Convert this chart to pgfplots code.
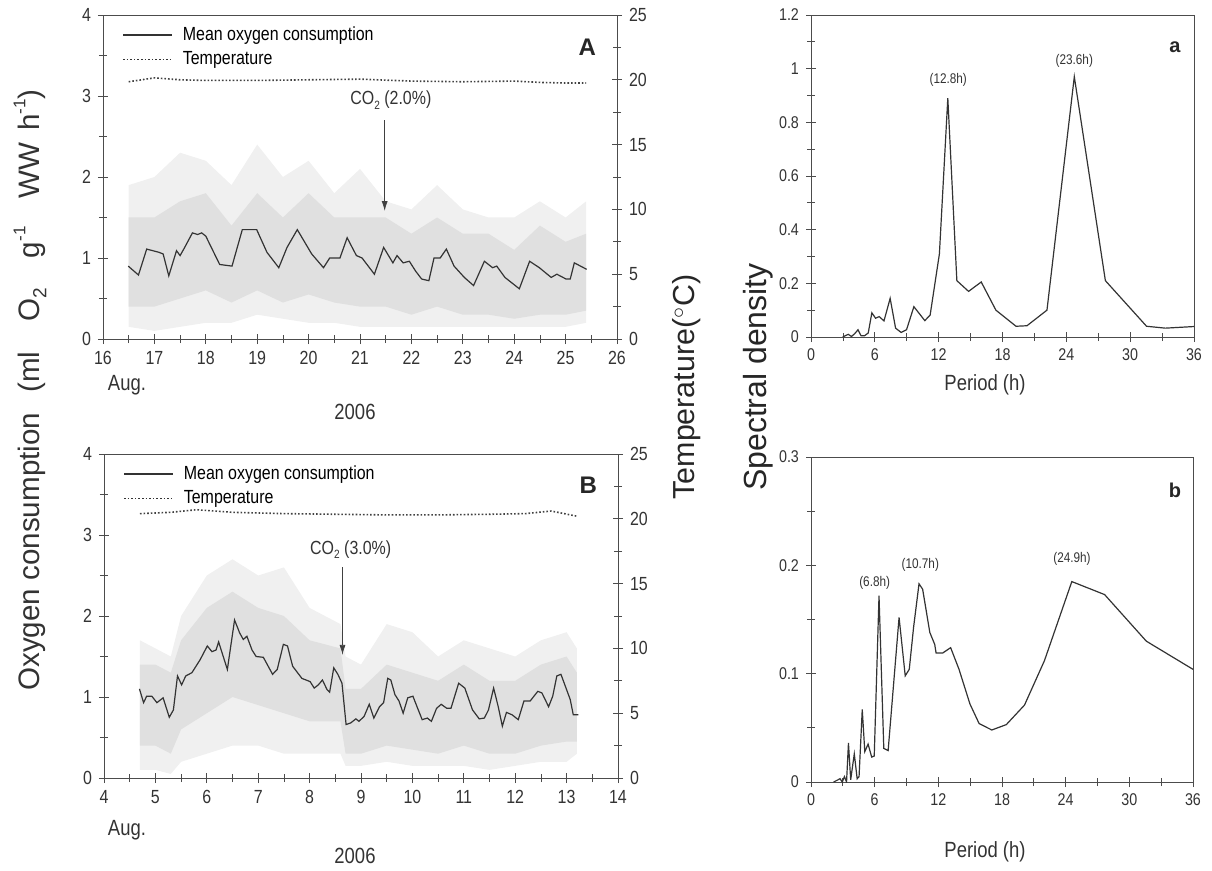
\documentclass[border=0pt]{standalone}
\usepackage{fontspec}
\setmainfont{Liberation Sans}
\newfontfamily\nf{Liberation Sans}[FakeStretch=0.84]
\usepackage{pgfplots}
\usepackage{pgfplotstable}
\pgfplotsset{compat=1.18}
\usetikzlibrary{arrows.meta}
\newcommand\sub[2][6]{\raisebox{-0.45ex}{\fontsize{#1}{#1}\selectfont #2}}
\newcommand\sups[2][8]{\raisebox{0.9ex}{\fontsize{#1}{#1}\selectfont #2}}

% scatter clouds: outline of sparse (outer) and dense (inner) regions
\pgfplotstableread{
x y
16.5 1.9
17.0 2.0
17.5 2.3
18.0 2.2
18.5 1.9
19.0 2.4
19.5 2.0
20.0 2.2
20.5 1.8
21.0 2.1
21.5 1.7
22.0 1.6
22.5 1.9
23.0 1.6
23.5 1.5
24.0 1.5
24.5 1.7
25.0 1.5
25.4 1.7
25.4 0.20
25.0 0.15
24.5 0.15
24.0 0.15
23.5 0.15
23.0 0.15
22.5 0.15
22.0 0.15
21.5 0.15
21.0 0.15
20.5 0.20
20.0 0.20
19.5 0.25
19.0 0.30
18.5 0.20
18.0 0.20
17.5 0.15
17.0 0.10
16.5 0.15
}\tabOutA

\pgfplotstableread{
x y
16.5 1.5
17.0 1.5
17.5 1.7
18.0 1.8
18.5 1.4
19.0 1.8
19.5 1.5
20.0 1.8
20.5 1.5
21.0 1.5
21.5 1.5
22.0 1.3
22.5 1.5
23.0 1.3
23.5 1.3
24.0 1.1
24.5 1.4
25.0 1.2
25.4 1.3
25.4 0.35
25.0 0.30
24.5 0.30
24.0 0.25
23.5 0.30
23.0 0.30
22.5 0.40
22.0 0.30
21.5 0.40
21.0 0.40
20.5 0.45
20.0 0.55
19.5 0.45
19.0 0.60
18.5 0.45
18.0 0.60
17.5 0.50
17.0 0.40
16.5 0.40
}\tabInA

\pgfplotstableread{
x y
4.7 1.7
5.0 1.6
5.3 1.5
5.5 2.0
6.0 2.5
6.5 2.7
7.0 2.5
7.5 2.6
8.0 2.1
8.6 1.9
8.7 1.5
9.0 1.4
9.5 1.9
10.0 1.8
10.5 1.5
11.0 1.7
11.5 1.6
12.0 1.5
12.5 1.7
13.0 1.8
13.2 1.6
13.2 0.30
13.0 0.20
12.5 0.20
12.0 0.15
11.5 0.10
11.0 0.15
10.5 0.15
10.0 0.15
9.5 0.20
9.0 0.15
8.7 0.15
8.6 0.30
8.0 0.30
7.5 0.30
7.0 0.40
6.5 0.40
6.0 0.30
5.5 0.20
5.3 0.05
5.0 0.10
4.7 0.10
}\tabOutB

\pgfplotstableread{
x y
4.7 1.4
5.0 1.4
5.3 1.3
5.5 1.7
6.0 2.1
6.5 2.3
7.0 2.1
7.5 2.0
8.0 1.7
8.6 1.6
8.7 1.1
9.0 1.1
9.5 1.4
10.0 1.3
10.5 1.2
11.0 1.4
11.5 1.2
12.0 1.2
12.5 1.4
13.0 1.5
13.2 1.3
13.2 0.45
13.0 0.45
12.5 0.40
12.0 0.30
11.5 0.30
11.0 0.40
10.5 0.30
10.0 0.35
9.5 0.40
9.0 0.30
8.7 0.30
8.6 0.70
8.0 0.70
7.5 0.80
7.0 0.90
6.5 1.00
6.0 0.80
5.5 0.60
5.3 0.30
5.0 0.40
4.7 0.40
}\tabInB

\pgfplotstableread{
d v
16.49 0.90
16.69 0.79
16.85 1.11
17.09 1.07
17.17 1.05
17.28 0.78
17.43 1.09
17.50 1.03
17.58 1.12
17.74 1.31
17.84 1.29
17.92 1.31
18.00 1.27
18.27 0.92
18.51 0.90
18.71 1.35
18.99 1.35
19.19 1.07
19.42 0.88
19.58 1.13
19.78 1.35
20.06 1.05
20.29 0.88
20.41 1.00
20.61 1.00
20.75 1.25
20.93 1.03
21.04 1.00
21.28 0.80
21.46 1.13
21.64 0.94
21.72 1.03
21.84 0.94
21.96 0.96
22.08 0.84
22.20 0.74
22.34 0.72
22.44 1.00
22.56 1.00
22.68 1.11
22.83 0.90
23.03 0.76
23.21 0.66
23.42 0.96
23.58 0.88
23.66 0.90
23.82 0.76
24.10 0.62
24.30 0.96
24.49 0.88
24.72 0.76
24.83 0.80
25.01 0.74
25.09 0.74
25.17 0.94
25.41 0.86
}\tabMeanA

\pgfplotstableread{
d v
4.69 1.10
4.77 0.93
4.83 1.01
4.93 1.01
5.03 0.93
5.15 0.99
5.27 0.75
5.35 0.84
5.43 1.26
5.51 1.15
5.59 1.26
5.71 1.30
5.87 1.46
6.01 1.63
6.10 1.56
6.18 1.58
6.23 1.68
6.37 1.40
6.40 1.34
6.54 1.95
6.64 1.79
6.71 1.71
6.78 1.75
6.88 1.58
6.96 1.50
7.10 1.49
7.28 1.28
7.37 1.34
7.49 1.65
7.57 1.63
7.67 1.38
7.85 1.23
8.01 1.19
8.09 1.11
8.17 1.15
8.25 1.21
8.34 1.09
8.39 1.06
8.47 1.36
8.55 1.28
8.63 1.17
8.71 0.66
8.80 0.68
8.90 0.73
8.96 0.70
9.06 0.76
9.16 0.91
9.25 0.74
9.36 0.88
9.44 0.93
9.52 1.23
9.58 1.21
9.66 1.03
9.74 0.95
9.82 0.80
9.91 0.99
10.01 1.01
10.09 0.88
10.19 0.72
10.29 0.74
10.37 0.70
10.47 0.86
10.56 0.91
10.67 0.86
10.75 0.86
10.90 1.17
11.02 1.11
11.17 0.84
11.30 0.73
11.40 0.74
11.48 0.84
11.58 1.11
11.67 0.88
11.75 0.64
11.83 0.81
11.94 0.78
12.06 0.72
12.17 0.95
12.29 0.95
12.44 1.07
12.52 1.05
12.65 0.88
12.73 1.01
12.81 1.26
12.89 1.28
13.07 0.97
13.13 0.78
13.23 0.78
}\tabMeanB

\pgfplotstableread{
d t
16.5 19.85
17.0 20.15
17.5 20.00
18.0 19.95
19.0 19.95
20.0 20.00
21.0 20.05
22.0 19.90
23.0 19.85
24.0 19.90
24.5 19.80
25.0 19.75
25.4 19.75
}\tabTmpA

\pgfplotstableread{
d t
4.7 20.40
5.3 20.50
5.8 20.70
6.5 20.50
7.5 20.40
8.5 20.35
9.5 20.30
10.5 20.30
11.5 20.35
12.2 20.40
12.7 20.60
13.2 20.20
}\tabTmpB

\pgfplotstableread{
p s
2.98 0.000
3.50 0.010
3.80 0.002
4.10 0.012
4.42 0.027
4.70 0.005
5.04 0.005
5.38 0.015
5.72 0.090
6.07 0.070
6.41 0.076
6.86 0.060
7.44 0.144
7.95 0.033
8.47 0.017
8.98 0.027
9.67 0.113
10.70 0.061
11.20 0.082
12.07 0.310
12.86 0.890
13.71 0.210
14.81 0.170
16.00 0.205
17.38 0.100
19.27 0.040
20.30 0.042
22.18 0.100
24.75 0.970
27.67 0.210
31.54 0.040
33.30 0.033
36.00 0.039
}\tabSpecA

\pgfplotstableread{
p s
2.13 0.000
2.74 0.003
2.95 0.000
3.15 0.005
3.35 0.000
3.53 0.036
3.74 0.002
4.08 0.026
4.35 0.003
4.53 0.005
4.83 0.067
5.07 0.028
5.38 0.035
5.72 0.023
5.96 0.024
6.41 0.172
6.86 0.031
7.27 0.029
8.30 0.152
8.88 0.098
9.26 0.104
9.67 0.143
10.18 0.183
10.52 0.178
11.20 0.138
11.66 0.127
11.79 0.119
12.40 0.119
13.16 0.124
13.95 0.104
14.98 0.072
15.84 0.054
17.04 0.048
18.41 0.053
20.12 0.071
22.00 0.112
24.58 0.185
27.67 0.173
31.60 0.130
36.00 0.104
}\tabSpecB

\pgfplotsset{
  base/.style={
    scale only axis,
    axis line style={black!70},
    tick style={black!70, thin},
    tick align=center,
    major tick length=5pt,
    minor tick length=4pt,
    ticklabel style={font=\nf\fontsize{8.5}{10}\selectfont, text=black!80},
    /pgf/number format/assume math mode=true,
  },
  leftax/.style={base, width=257pt, height=162pt,
    ticklabel style={font=\nf\fontsize{9.5}{10}\selectfont, text=black!80},
    xtick pos=bottom, ytick pos=left,
    ymin=0, ymax=4, ytick={0,1,2,3,4}, minor y tick num=1,
    minor x tick num=1,
    legend style={draw=none, fill=none, font=\nf\fontsize{9.5}{11}\selectfont,
      at={(0.025,0.99)}, anchor=north west,
      /tikz/every odd column/.append style={column sep=3pt}},
    legend image code/.code={\draw[#1] (0pt,0pt) -- (24.5pt,0pt);},
    legend cell align=left,
  },
  tempax/.style={base, width=257pt, height=162pt,
    ticklabel style={font=\nf\fontsize{9.5}{10}\selectfont, text=black!80},
    hide x axis, axis y line*=right,
    ymin=0, ymax=25, ytick={0,5,...,25}, minor y tick num=1,
  },
  specax/.style={base,
    xmin=0, xmax=36, xtick={0,6,...,36}, minor x tick num=1,
    xtick pos=bottom, ytick pos=left,
  },
}

\begin{document}
\begin{tikzpicture}
\path (0,0) rectangle (606pt,-433.5pt);

% ---------- Panel A ----------
\begin{axis}[leftax, at={(51.5pt,-169.5pt)}, anchor=south west,
  xmin=16, xmax=26, xtick={16,...,26}]
  \addplot[fill=black!6, draw=none, forget plot] table[x=x,y=y]{\tabOutA};
  \addplot[fill=black!12, draw=none, forget plot] table[x=x,y=y]{\tabInA};
  \addplot[black!80, semithick] table[x=d,y=v]{\tabMeanA};
  \addlegendentry{Mean oxygen consumption}
  \addlegendimage{black!80, densely dotted, thick}
  \addlegendentry{Temperature}
  \node[font=\nf\fontsize{9.5}{10}\selectfont, text=black!80] at (axis cs:21.6,2.95) {CO\sub{2} (2.0\%)};
  \draw[black!75, -{Latex[length=5pt,width=3pt]}] (axis cs:21.48,2.7) -- (axis cs:21.48,1.58);
  \node[font=\bfseries\fontsize{12}{12}\selectfont, text=black!85] at (axis cs:25.42,3.6) {A};
\end{axis}
\begin{axis}[tempax, at={(51.5pt,-169.5pt)}, anchor=south west, xmin=16, xmax=26]
  \addplot[black!75, densely dotted, thick] table[x=d,y=t]{\tabTmpA};
\end{axis}

% ---------- Panel B ----------
\begin{axis}[leftax, at={(52pt,-389pt)}, anchor=south west,
  xmin=4, xmax=14, xtick={4,...,14}]
  \addplot[fill=black!6, draw=none, forget plot] table[x=x,y=y]{\tabOutB};
  \addplot[fill=black!12, draw=none, forget plot] table[x=x,y=y]{\tabInB};
  \addplot[black!80, semithick] table[x=d,y=v]{\tabMeanB};
  \addlegendentry{Mean oxygen consumption}
  \addlegendimage{black!80, densely dotted, thick}
  \addlegendentry{Temperature}
  \node[font=\nf\fontsize{9.5}{10}\selectfont, text=black!80] at (axis cs:8.8,2.82) {CO\sub{2} (3.0\%)};
  \draw[black!75, -{Latex[length=5pt,width=3pt]}] (axis cs:8.64,2.6) -- (axis cs:8.64,1.52);
  \node[font=\bfseries\fontsize{12}{12}\selectfont, text=black!85] at (axis cs:13.42,3.62) {B};
\end{axis}
\begin{axis}[tempax, at={(52pt,-389pt)}, anchor=south west, xmin=4, xmax=14]
  \addplot[black!75, densely dotted, thick] table[x=d,y=t]{\tabTmpB};
\end{axis}

% ---------- Panel a ----------
\begin{axis}[specax, at={(405.5pt,-168.5pt)}, anchor=south west,
  width=191.5pt, height=161pt,
  ymin=0, ymax=1.2, ytick={0,0.2,...,1.2}, minor y tick num=1]
  \addplot[black!80, semithick] table[x=p,y=s]{\tabSpecA};
  \node[font=\nf\fontsize{7}{8}\selectfont, text=black!80] at (axis cs:12.9,0.96) {(12.8h)};
  \node[font=\nf\fontsize{7}{8}\selectfont, text=black!80] at (axis cs:24.75,1.03) {(23.6h)};
  \node[font=\bfseries\fontsize{10}{10}\selectfont, text=black!85] at (axis cs:34.2,1.08) {a};
\end{axis}

% ---------- Panel b ----------
\begin{axis}[specax, at={(405.5pt,-391pt)}, anchor=south west,
  width=191pt, height=162.5pt,
  ymin=0, ymax=0.3, ytick={0,0.1,0.2,0.3}, minor y tick num=1]
  \addplot[black!80, semithick] table[x=p,y=s]{\tabSpecB};
  \node[font=\nf\fontsize{7}{8}\selectfont, text=black!80] at (axis cs:6.0,0.184) {(6.8h)};
  \node[font=\nf\fontsize{7}{8}\selectfont, text=black!80] at (axis cs:10.3,0.200) {(10.7h)};
  \node[font=\nf\fontsize{7}{8}\selectfont, text=black!80] at (axis cs:24.6,0.206) {(24.9h)};
  \node[font=\bfseries\fontsize{10}{10}\selectfont, text=black!85] at (axis cs:34.3,0.269) {b};
\end{axis}

% ---------- outer labels ----------
\node[rotate=90, font=\fontsize{14.8}{17}\selectfont, text=black!80] at (15pt,-195pt)
  {Oxygen consumption\hspace{10pt}(ml\hspace{15pt}O\sub[9.5]{2}\hspace{15pt}g\sups[8.5]{-1}\hspace{14pt}WW\hspace{6pt}h\sups[8.5]{-1})};
\node[rotate=90, font=\fontsize{15.2}{17}\selectfont, text=black!85] at (343.5pt,-193.5pt) {Temperature($^\circ$C)};
\node[rotate=90, font=\fontsize{16}{18}\selectfont, text=black!85] at (379pt,-188.5pt) {Spectral density};
\node[font=\nf\fontsize{11}{12}\selectfont, text=black!80] at (63.5pt,-192.5pt) {Aug.};
\node[font=\nf\fontsize{11}{12}\selectfont, text=black!80] at (177.5pt,-206pt) {2006};
\node[font=\nf\fontsize{11}{12}\selectfont, text=black!80] at (63.5pt,-415pt) {Aug.};
\node[font=\nf\fontsize{11}{12}\selectfont, text=black!80] at (177.5pt,-428pt) {2006};
\node[font=\nf\fontsize{11}{12}\selectfont, text=black!80] at (492.5pt,-192.5pt) {Period (h)};
\node[font=\nf\fontsize{11}{12}\selectfont, text=black!80] at (492.5pt,-426pt) {Period (h)};
\end{tikzpicture}
\end{document}
